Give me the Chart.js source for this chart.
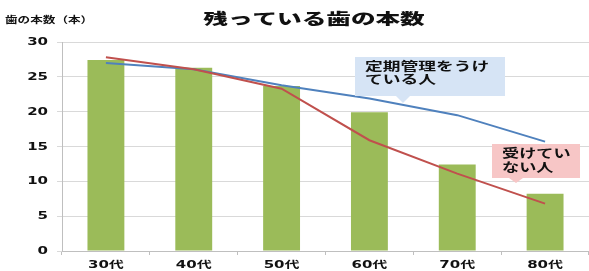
<!DOCTYPE html>
<html>
<head>
<meta charset="utf-8">
<script src="https://cdn.jsdelivr.net/npm/chart.js@4"></script>
<style>
  html, body { margin: 0; padding: 0; background: #fff; }
  #wrap { width: 589px; height: 271px; position: relative; }
</style>
</head>
<body>
<div id="wrap"><canvas id="teeth-chart"></canvas></div>
<script>
// data
const ages = ['30代', '40代', '50代', '60代', '70代', '80代'];
const teethAvg = [27.4, 26.3, 23.7, 19.9, 12.4, 8.2];
const withCheckups = [27.0, 26.1, 23.8, 21.9, 19.5, 15.7];
const withoutCheckups = [27.8, 26.1, 23.3, 15.9, 11.1, 6.8];
const yTicks = [0, 5, 10, 15, 20, 25, 30];

const JP = '"Noto Sans CJK JP", "Noto Sans", sans-serif';
const NUM = '"DejaVu Sans", "Noto Sans CJK JP", sans-serif';

// the original picture is stretched sideways, so all text is drawn wide
function wideText(ctx, text, x, y, sx, align) {
    ctx.save();
    ctx.translate(x, y);
    ctx.scale(sx, 1);
    ctx.textAlign = align;
    ctx.fillText(text, 0, 0);
    ctx.restore();
}

const extras = {
    id: 'extras',
    afterDraw(chart) {
        const ctx = chart.ctx;
        const xs = chart.scales.x, ys = chart.scales.y;
        ctx.save();
        ctx.fillStyle = '#111';
        ctx.textBaseline = 'middle';

        ctx.font = '900 15px ' + JP;
        wideText(ctx, '残っている歯の本数', 314, 18, 1.64, 'center');
        ctx.font = 'bold 9px ' + JP;
        wideText(ctx, '歯の本数（本）', 5, 20, 1.4, 'left');

        // tick labels, placed by the scales
        ctx.font = 'bold 10px ' + NUM;
        yTicks.forEach(v => wideText(ctx, String(v), 48, ys.getPixelForValue(v) + 0.5, 1.5, 'right'));
        ages.forEach((a, i) => wideText(ctx, a, xs.getPixelForValue(i), 265, 1.5, 'center'));

        function callout(x, y, w, h, tipX, tipY, color, lines, sx, gap) {
            ctx.fillStyle = color;
            ctx.fillRect(x, y, w, h);
            ctx.beginPath();
            ctx.moveTo(tipX - 7, y + h);
            ctx.lineTo(tipX, tipY);
            ctx.lineTo(tipX + 7, y + h);
            ctx.closePath();
            ctx.fill();
            ctx.fillStyle = '#111';
            ctx.font = 'bold 12px ' + JP;
            lines.forEach((t, i) => wideText(ctx, t, x + 10, y + 9 + i * gap, sx, 'left'));
        }
        callout(355, 57, 150, 39, 403, 103, '#d6e4f5', ['定期管理をうけ', 'ている人'], 1.48, 13.5);
        callout(492, 144, 88, 34, 516, 183, '#f7c6c6', ['受けてい', 'ない人'], 1.43, 14);
        ctx.restore();
    }
};

new Chart(document.getElementById('teeth-chart'), {
    type: 'bar',
    data: {
        labels: ages,
        datasets: [
            {
                type: 'line',
                label: '定期管理をうけている人',
                data: withCheckups,
                borderColor: '#4f81bd',
                borderWidth: 2,
                pointRadius: 0,
                fill: false,
                order: 1
            },
            {
                type: 'line',
                label: '受けていない人',
                data: withoutCheckups,
                borderColor: '#c0504d',
                borderWidth: 2,
                pointRadius: 0,
                fill: false,
                order: 0
            },
            {
                label: '歯の本数',
                data: teethAvg,
                backgroundColor: '#9bbb59',
                categoryPercentage: 1,
                barPercentage: 0.42,
                order: 2
            }
        ]
    },
    options: {
        responsive: true,
        maintainAspectRatio: false,
        animation: false,
        layout: { padding: { top: 42, left: 57, right: 0, bottom: 16 } },
        plugins: {
            legend: { display: false },
            tooltip: { enabled: false }
        },
        scales: {
            x: {
                grid: { drawOnChartArea: false, drawTicks: true, tickLength: 4, color: '#bfbfbf' },
                border: { color: '#bfbfbf' },
                ticks: { display: false }
            },
            y: {
                min: 0,
                max: 30,
                afterBuildTicks(axis) { axis.ticks = yTicks.map(v => ({ value: v })); },
                grid: { color: '#d9d9d9', tickLength: 5 },
                border: { color: '#bfbfbf' },
                ticks: { display: false }
            }
        }
    },
    plugins: [extras]
});
</script>
</body>
</html>
